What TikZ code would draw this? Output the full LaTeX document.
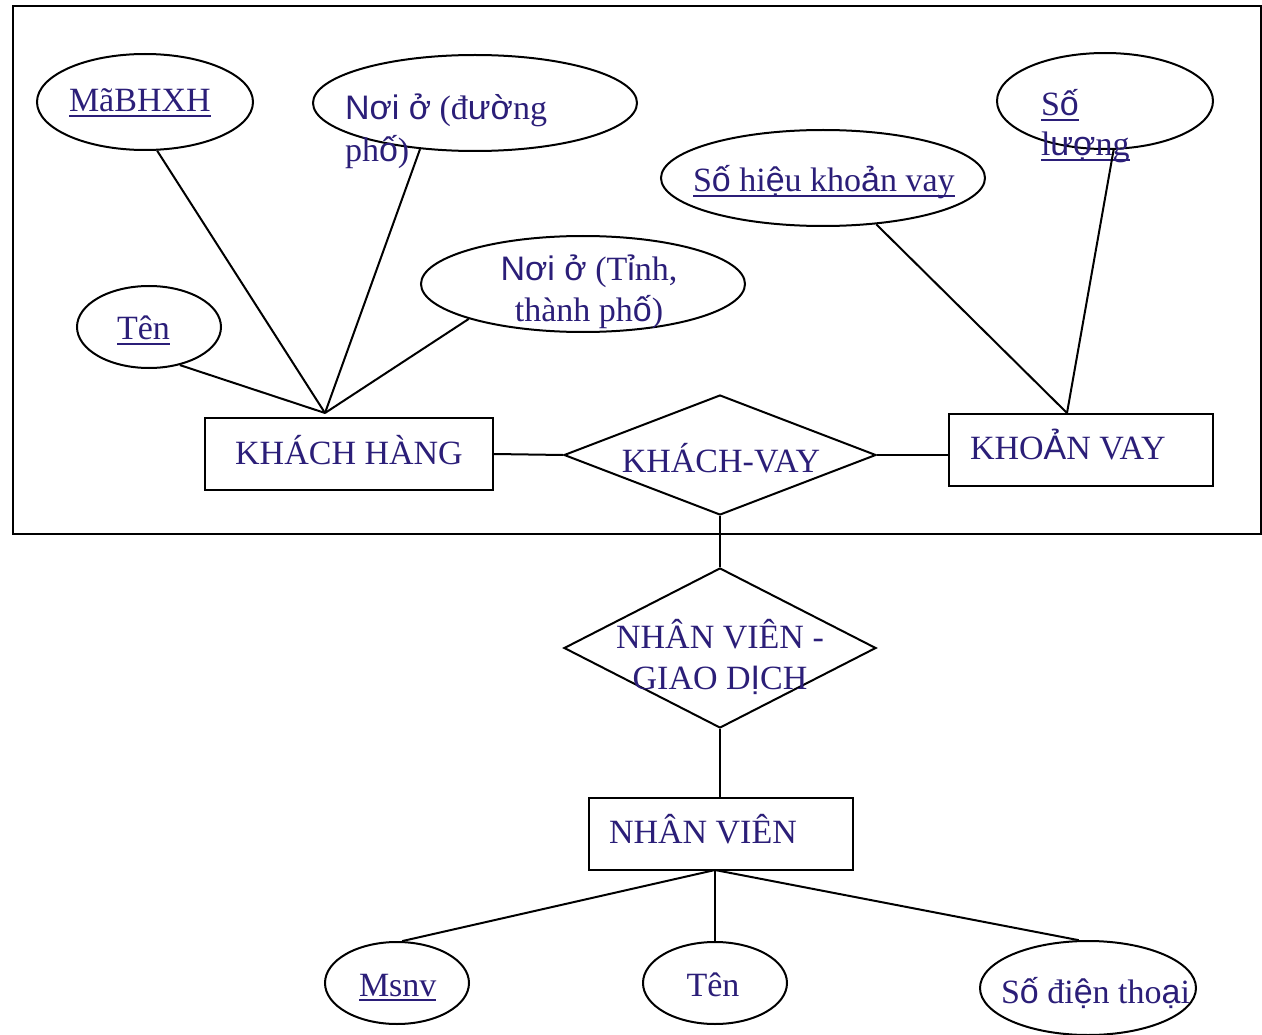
\documentclass[tikz,border=0pt]{standalone}
\usepackage{fontspec}
\setmainfont{Liberation Serif}
\newfontfamily\vsfont{Liberation Sans}
\usetikzlibrary{shapes.geometric}
\definecolor{ink}{RGB}{43,30,120}
\newcommand{\myul}[1]{\setbox0\hbox{#1}\rlap{\rule[-5pt]{\wd0}{1.6pt}}\box0}
\newcommand{\vs}[1]{{\vsfont #1}}
\begin{document}
\begin{tikzpicture}[x=1pt,y=-1pt, line width=2pt,
  attr/.style={draw, ellipse, inner sep=0pt},
  ent/.style={draw, rectangle, inner sep=0pt},
  rel/.style={draw, diamond, inner sep=0pt},
  lbl/.style={text=ink, font=\fontsize{34}{41}\selectfont, inner sep=0pt},
  lw/.style={lbl, anchor=base west},
  lc/.style={lbl, anchor=base},
]
\useasboundingbox (0,0) rectangle (1262,1035);
% outer frame
\draw (13,6) rectangle (1261,534);

% attribute ellipses
\node[attr, minimum width=216pt, minimum height=96pt] (mabhxh) at (145,102) {};
\node[attr, minimum width=324pt, minimum height=96pt] (noiduong) at (475,103) {};
\node[attr, minimum width=144pt, minimum height=82pt] (ten1) at (149,327) {};
\node[attr, minimum width=324pt, minimum height=96pt] (noitinh) at (583,284) {};
\node[attr, minimum width=324pt, minimum height=96pt] (sohieu) at (823,178) {};
\node[attr, minimum width=216pt, minimum height=96pt] (soluong) at (1105,101) {};
\node[attr, minimum width=144pt, minimum height=82pt] (msnv) at (397,983) {};
\node[attr, minimum width=144pt, minimum height=82pt] (ten2) at (715,983) {};
\node[attr, minimum width=216pt, minimum height=94pt] (sdt) at (1088,988) {};

% entities
\node[ent, minimum width=288pt, minimum height=72pt] (kh) at (349,454) {};
\node[ent, minimum width=264pt, minimum height=72pt] (kvay) at (1081,450) {};
\node[ent, minimum width=264pt, minimum height=72pt] (nv) at (721,834) {};

% relationships
\node[rel, minimum width=312pt, minimum height=120pt] (kv) at (720,455) {};
\node[rel, minimum width=312pt, minimum height=160pt] (nvgd) at (720,648) {};

% labels
\node[lw] (tmabhxh) at (68,112) {\myul{MãBHXH}};
\node[lw] (tnoi1) at (344,120) {\vs{Nơi ở} (đ\vs{ườ}ng};
\node[lw] (tnoi2) at (344,162) {ph\vs{ố})};
\node[lw] (tten1) at (116,340) {\myul{Tên}};
\node[lc] (ttinh1) at (589,280) {\vs{Nơi ở} (T\vs{ỉ}nh,};
\node[lc] (ttinh2) at (589,322) {thành ph\vs{ố})};
\node[lc] (tkh) at (349,464) {KHÁCH HÀNG};
\node[lc] (tkv) at (721,472) {KHÁCH-VAY};
\node[lw] (tkvay) at (969,459) {KHO\vs{Ả}N VAY};
\node[lw] (tsohieu) at (692,192) {\myul{S\vs{ố} hi\vs{ệ}u kho\vs{ả}n vay}};
\node[lw] (tsl1) at (1040,116) {\myul{S\vs{ố}}};
\node[lw] (tsl2) at (1040,156) {\myul{l\vs{ượ}ng}};
\node[lc] (tnvgd1) at (720,648) {NHÂN VIÊN -};
\node[lc] (tnvgd2) at (720,689) {GIAO D\vs{Ị}CH};
\node[lw] (tnv) at (608,843) {NHÂN VIÊN};
\node[lw] (tmsnv) at (358,996) {\myul{Msnv}};
\node[lc] (tten2) at (713,996) {Tên};
\node[lw] (tsdt) at (1000,1003) {S\vs{ố} đi\vs{ệ}n tho\vs{ạ}i};

% connector points
\coordinate (khtop) at (325,413);
\coordinate (kvaytop) at (1067,413);
\coordinate (nvbot) at (715,870);

% connectors
\draw (mabhxh.-76) -- (khtop);
\draw (noiduong.-140) -- (khtop);
\draw (noitinh.-163) -- (khtop);
\draw (ten1.-51) -- (khtop);
\draw (sohieu.-41) -- (kvaytop);
\draw (soluong.-80) -- (kvaytop);
\draw (kh.east) -- (kv.west);
\draw (kv.east) -- (kv.east -| kvay.west);
\draw (kv.south) -- (nvgd.north);
\draw (nvgd.south) -- (nvgd.south |- nv.north);
\draw (nvbot) -- (msnv.83);
\draw (nvbot) -- (ten2.90);
\draw (nvbot) -- (sdt.101);
\end{tikzpicture}
\end{document}
